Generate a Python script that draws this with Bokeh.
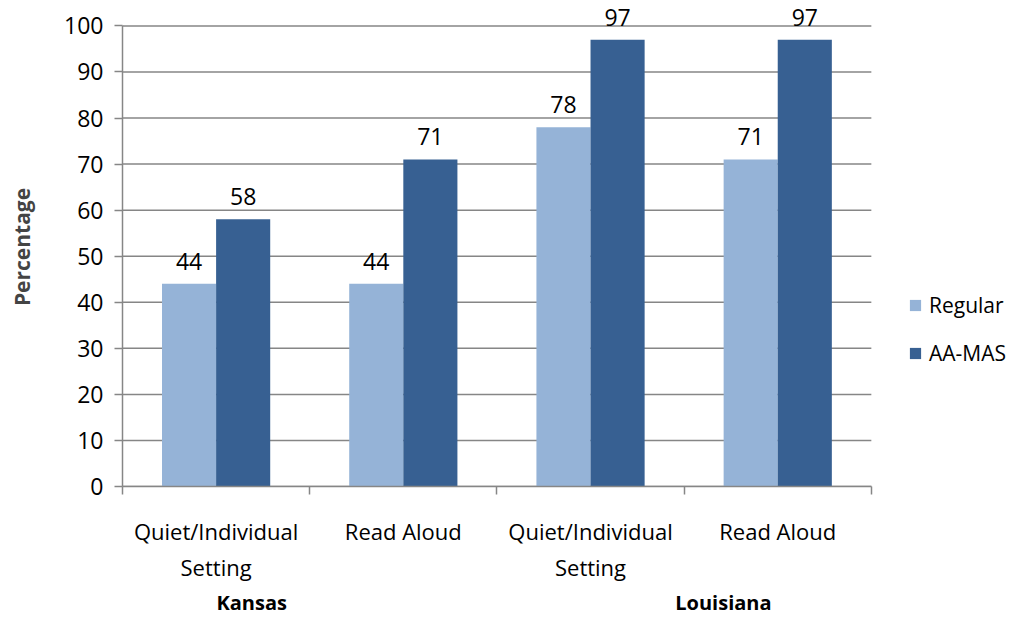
from bokeh.plotting import figure
from bokeh.models import (ColumnDataSource, FixedTicker, LinearAxis, Range1d,
                          Legend, LegendItem, LabelSet)
from bokeh.core.properties import value
from bokeh.embed import file_html
from bokeh.resources import INLINE

categories = ["Quiet/Individual\nSetting", "Read Aloud", "Quiet/Individual\nSetting", "Read Aloud"]
groups = ["Kansas", "Louisiana"]
regular = [44, 44, 78, 71]
aamas = [58, 71, 97, 97]
y_ticks = [0, 10, 20, 30, 40, 50, 60, 70, 80, 90, 100]

FONT = "Open Sans"
GRAY = "#868686"
C_REG = "#95B3D7"
C_AA = "#376092"
BAR_W = 0.289
N = len(categories)
X_END = N + 139 / 187  # extra room on the right of the plot area for the legend

pos = [i + 0.5 for i in range(N)]
src = ColumnDataSource(dict(
    x_reg=[p - BAR_W / 2 for p in pos],
    x_aa=[p + BAR_W / 2 for p in pos],
    regular=regular, aamas=aamas,
    lab_reg=[str(v) for v in regular], lab_aa=[str(v) for v in aamas],
))
grid_src = ColumnDataSource(dict(x0=[0] * len(y_ticks), x1=[N] * len(y_ticks), y=y_ticks))

p = figure(width=1010, height=618, output_backend="svg", toolbar_location=None,
           x_range=Range1d(0, X_END), y_range=Range1d(0, 104),
           min_border_left=122, min_border_right=0, min_border_top=7,
           min_border_bottom=128, outline_line_color=None, x_axis_location=None)
p.xgrid.grid_line_color = None
p.ygrid.grid_line_color = None

p.segment(x0="x0", x1="x1", y0="y", y1="y", source=grid_src, line_color=GRAY, line_width=1.5)

r1 = p.vbar(x="x_reg", top="regular", width=BAR_W, source=src, fill_color=C_REG, line_color=None)
r2 = p.vbar(x="x_aa", top="aamas", width=BAR_W, source=src, fill_color=C_AA, line_color=None)

for col, xcol, ycol in (("lab_reg", "x_reg", "regular"), ("lab_aa", "x_aa", "aamas")):
    p.add_layout(LabelSet(x=xcol, y=ycol, text=col, source=src, y_offset=14,
                          text_align="center", text_baseline="alphabetic",
                          text_font=value(FONT), text_font_size="23px", text_color="black"))

# y axis
ya = p.yaxis[0]
ya.ticker = FixedTicker(ticks=y_ticks)
ya.bounds = (0, 100)
ya.axis_label = "Percentage"
ya.axis_label_text_font = FONT
ya.axis_label_text_font_style = "bold"
ya.axis_label_text_font_size = "21px"
ya.axis_label_standoff = 25
ya.major_label_text_font = FONT
ya.major_label_text_font_size = "23px"
ya.major_label_text_color = "black"
ya.major_label_standoff = 11
ya.axis_line_color = GRAY
ya.axis_line_width = 1.5
ya.major_tick_line_color = GRAY
ya.major_tick_line_width = 1.5
ya.major_tick_out = 8
ya.major_tick_in = 0
ya.minor_tick_line_color = None

# x axis with category labels and boundary ticks
xa = LinearAxis(ticker=FixedTicker(ticks=pos, minor_ticks=list(range(N + 1))))
xa.bounds = (0, N)
xa.major_label_overrides = {pp: c for pp, c in zip(pos, categories)}
xa.major_label_text_font = FONT
xa.major_label_text_font_size = "22px"
xa.major_label_text_color = "black"
xa.major_label_standoff = 21
xa.axis_line_color = GRAY
xa.axis_line_width = 1.5
xa.major_tick_line_color = None
xa.major_tick_out = 8
xa.major_tick_in = 0
xa.minor_tick_line_color = GRAY
xa.minor_tick_line_width = 1.5
xa.minor_tick_out = 8
xa.minor_tick_in = 0
p.add_layout(xa, "below")

# group labels
group_pos = [0.69, 3.21]
ga = LinearAxis(ticker=FixedTicker(ticks=group_pos))
ga.major_label_overrides = {gp: g for gp, g in zip(group_pos, groups)}
ga.major_label_text_font = FONT
ga.major_label_text_font_style = "bold"
ga.major_label_text_font_size = "20px"
ga.major_label_text_color = "black"
ga.major_label_standoff = 4
ga.major_tick_out = 0
ga.major_tick_in = 0
ga.axis_line_color = None
ga.major_tick_line_color = None
ga.minor_tick_line_color = None
p.add_layout(ga, "below")

legend = Legend(items=[LegendItem(label="Regular", renderers=[r1]),
                       LegendItem(label="AA-MAS", renderers=[r2])],
                location=(786, 118), orientation="vertical",
                glyph_width=14, glyph_height=14, label_height=30, spacing=18,
                label_standoff=7, padding=0, margin=0,
                label_text_font=FONT, label_text_font_size="21px",
                label_text_color="black",
                border_line_color=None, background_fill_alpha=0)
p.add_layout(legend, "center")

open("out.html", "w").write(file_html(p, INLINE))
